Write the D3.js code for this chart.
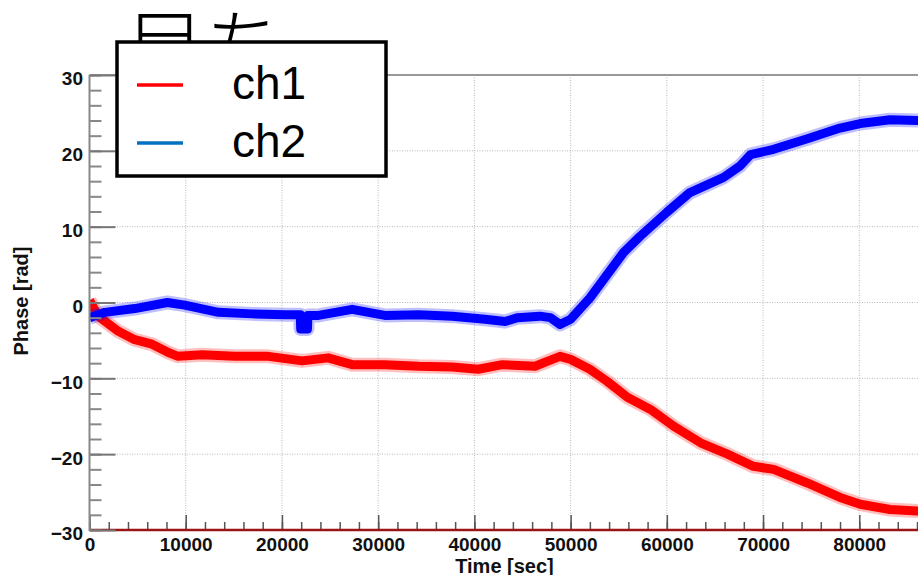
<!DOCTYPE html>
<html><head><meta charset="utf-8">
<script src="https://cdn.jsdelivr.net/npm/d3@7"></script>
<style>
html,body{margin:0;padding:0;background:#fff;overflow:hidden;}
svg{display:block;}
</style></head>
<body>
<svg id="c" width="918" height="575"></svg>
<script>
// ---- data ----
const ch1Time = [0, 900, 3000, 4700, 6500, 8200, 9200, 11700, 15100, 18600, 22100, 24800, 27300, 30700, 34200, 37700, 40400, 42900, 46300, 48100, 48900, 50000, 52000, 53800, 55900, 58300, 60700, 63500, 66300, 69000, 71100, 74600, 78000, 80100, 83200, 86000, 87500];
const ch1Phase = [0.3, -1.8, -3.8, -4.9, -5.5, -6.6, -7.1, -6.9, -7.1, -7.1, -7.7, -7.3, -8.2, -8.2, -8.4, -8.5, -8.8, -8.2, -8.4, -7.5, -7.1, -7.5, -8.8, -10.4, -12.5, -14.1, -16.3, -18.5, -20.0, -21.6, -22.0, -23.8, -25.7, -26.6, -27.3, -27.5, -27.6];
const ch2Time = [0, 1600, 4700, 8100, 9900, 13400, 16900, 20300, 21900, 21950, 22650, 22700, 23800, 27300, 30700, 34200, 37700, 41100, 43200, 44500, 46800, 47900, 48900, 50000, 52000, 55500, 57200, 60000, 62400, 65900, 67600, 68700, 71100, 74600, 78000, 80100, 83200, 86000, 87500];
const ch2Phase = [-2.0, -1.3, -0.8, 0.0, -0.35, -1.3, -1.5, -1.6, -1.6, -3.5, -3.5, -1.7, -1.7, -0.9, -1.7, -1.6, -1.8, -2.2, -2.5, -2.0, -1.8, -2.0, -2.9, -2.2, 0.6, 6.6, 8.7, 11.9, 14.5, 16.5, 18.0, 19.5, 20.2, 21.6, 23.0, 23.6, 24.1, 24.0, 24.0];
const xTicks = [0, 10000, 20000, 30000, 40000, 50000, 60000, 70000, 80000];
const yTicks = [-30, -20, -10, 0, 10, 20, 30];
const legendLabels = ["ch1", "ch2"];
const titleText = "目ち";

// ---- layout ----
const svg = d3.select("#c");
const x = d3.scaleLinear().domain([0, 90000]).range([89.5, 955.5]);
const y = d3.scaleLinear().domain([-30, 30]).range([530, 75]);
const bold = "'Liberation Sans', Arial, Helvetica, sans-serif";

const defs = svg.append("defs");
defs.append("clipPath").attr("id", "plotclip")
  .append("rect").attr("x", 90).attr("y", 75).attr("width", 900).attr("height", 455);
defs.append("clipPath").attr("id", "titleclip")
  .append("rect").attr("x", 0).attr("y", 0).attr("width", 918).attr("height", 42);

// grid
const grid = svg.append("g").attr("stroke", "#b8b8b8").attr("stroke-width", 1).attr("stroke-dasharray", "1,1.5");
grid.selectAll("line.v").data(xTicks.filter(d => d > 0)).join("line")
  .attr("x1", d => x(d)).attr("x2", d => x(d)).attr("y1", y(30)).attr("y2", y(-30));
grid.selectAll("line.h").data(yTicks.filter(d => d > -30 && d < 30)).join("line")
  .attr("x1", x(0)).attr("x2", 918).attr("y1", d => y(d)).attr("y2", d => y(d));

// data
const line = d3.line().x(d => x(d[0])).y(d => y(d[1]));
const series = [
  {t: ch1Time, v: ch1Phase, color: "#ff0000"},
  {t: ch2Time, v: ch2Phase, color: "#0000ff"}
];
const dg = svg.append("g").attr("clip-path", "url(#plotclip)");
series.forEach(s => {
  const pts = s.t.map((t, i) => [t, s.v[i]]);
  dg.append("path").attr("d", line(pts)).attr("fill", "none").attr("stroke", s.color)
    .attr("stroke-width", 14).attr("stroke-opacity", 0.25).attr("stroke-linejoin", "round");
  dg.append("path").attr("d", line(pts)).attr("fill", "none").attr("stroke", s.color)
    .attr("stroke-width", 9).attr("stroke-linejoin", "round");
});

// frame top
svg.append("line").attr("x1", x(0)).attr("x2", 918).attr("y1", y(30)).attr("y2", y(30))
  .attr("stroke", "#999").attr("stroke-width", 2);

// x axis
const xMinor = d3.range(0, 90001, 2000);
const xa = svg.append("g").attr("transform", `translate(0,${y(-30)})`);
xa.call(d3.axisBottom(x).tickValues(xMinor).tickSize(-8).tickFormat(""));
xa.call(g => g.select(".domain").remove());
xa.selectAll(".tick line").attr("stroke", "#555").attr("stroke-width", 1.5);
const xb = svg.append("g").attr("transform", `translate(0,${y(-30)})`);
xb.call(d3.axisBottom(x).tickValues(xTicks).tickSize(-15).tickPadding(7.5).tickFormat(d3.format("d")));
xb.call(g => g.select(".domain").remove());
xb.selectAll(".tick line").attr("stroke", "#555").attr("stroke-width", 1.5);
xb.selectAll("text").attr("font-family", bold).attr("font-weight", "bold").attr("font-size", 19).attr("fill", "#111");
svg.append("line").attr("x1", x(0)).attr("x2", 918).attr("y1", y(-30)).attr("y2", y(-30))
  .attr("stroke", "#9a1515").attr("stroke-width", 2.5);

// y axis
const yMinor = d3.range(-30, 30.1, 2);
const ya = svg.append("g").attr("transform", `translate(${x(0)},0)`);
ya.call(d3.axisLeft(y).tickValues(yMinor).tickSize(-12).tickFormat(""));
ya.call(g => g.select(".domain").remove());
ya.selectAll(".tick line").attr("stroke", "#888").attr("stroke-width", 2);
const yb = svg.append("g").attr("transform", `translate(${x(0)},0)`);
yb.call(d3.axisLeft(y).tickValues(yTicks).tickSize(-26).tickPadding(6.5).tickFormat(d3.format("d")));
yb.call(g => g.select(".domain").remove());
yb.selectAll(".tick line").attr("stroke", "#777").attr("stroke-width", 2);
yb.selectAll("text").attr("font-family", bold).attr("font-weight", "bold").attr("font-size", 19)
  .attr("fill", "#111").attr("dy", "0.52em");
svg.append("line").attr("x1", x(0)).attr("x2", x(0)).attr("y1", y(30)).attr("y2", y(-30) + 1)
  .attr("stroke", "#888").attr("stroke-width", 2);

// axis titles
svg.append("text").attr("x", 504.5).attr("y", 572.5).attr("text-anchor", "middle")
  .attr("font-family", bold).attr("font-weight", "bold").attr("font-size", 20).attr("fill", "#111")
  .text("Time [sec]");
svg.append("text").attr("transform", "translate(28,301) rotate(-90)").attr("text-anchor", "middle")
  .attr("font-family", bold).attr("font-weight", "bold").attr("font-size", 20).attr("fill", "#111")
  .text("Phase [rad]");

// title (partially hidden behind legend)
svg.append("text").attr("x", 125).attr("y", 75).attr("clip-path", "url(#titleclip)")
  .attr("font-family", "'Noto Sans CJK JP', sans-serif").attr("font-weight", 300).attr("font-size", 80)
  .attr("fill", "#000").text(titleText);

// legend
const lg = svg.append("g");
lg.append("rect").attr("x", 117).attr("y", 42).attr("width", 269).attr("height", 134)
  .attr("fill", "#fff").attr("stroke", "#000").attr("stroke-width", 3.5);
const legendColors = ["#ff0000", "#0070c0"];
legendLabels.forEach((lab, i) => {
  const cy = 85 + i * 58;
  lg.append("line").attr("x1", 137).attr("x2", 183).attr("y1", cy).attr("y2", cy)
    .attr("stroke", legendColors[i]).attr("stroke-width", 3.5);
  lg.append("text").attr("x", 232).attr("y", cy + 13.5)
    .attr("font-family", "'Liberation Sans', Arial, sans-serif").attr("font-size", 46).attr("fill", "#000")
    .text(lab);
});
</script>
</body></html>
